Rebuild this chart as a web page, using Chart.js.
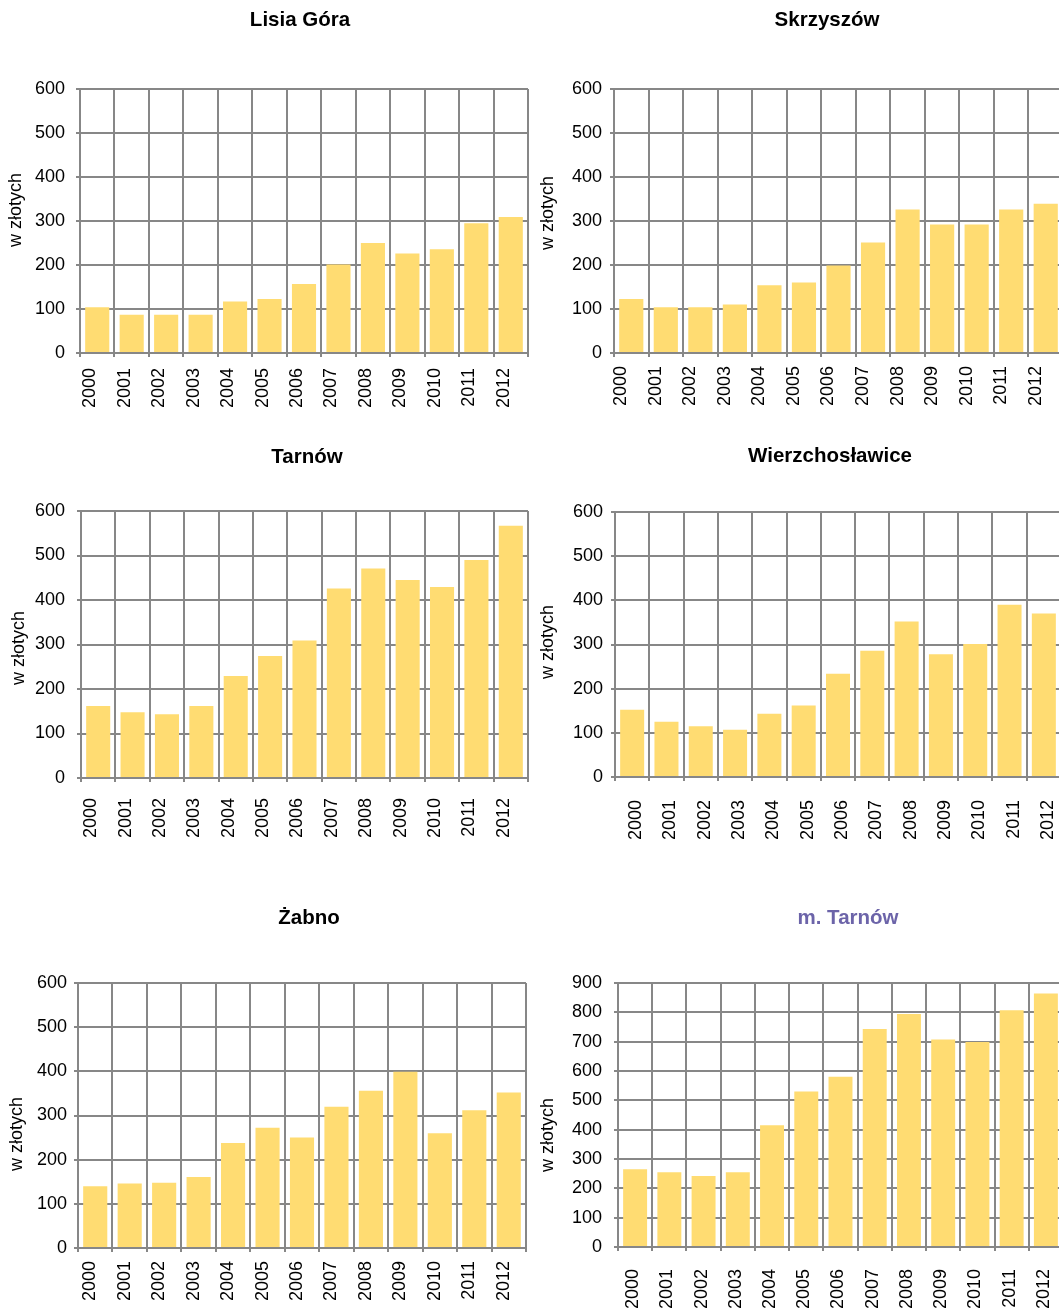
<!DOCTYPE html>
<html>
<head>
<meta charset="utf-8">
<script src="https://cdn.jsdelivr.net/npm/chart.js@4.4.1/dist/chart.umd.min.js"></script>
<style>
  html, body { margin: 0; padding: 0; background: #fff; }
  #page { position: relative; width: 1059px; height: 1309px; overflow: hidden; }
  #page canvas { position: absolute; }
</style>
</head>
<body>
<div id="page"></div>
<script>
// Categories and values (zł)
const years = ["2000", "2001", "2002", "2003", "2004", "2005", "2006", "2007", "2008", "2009", "2010", "2011", "2012"];
const lisiaGora = [104, 87, 87, 87, 117, 123, 157, 201, 250, 226, 236, 295, 309];
const skrzyszow = [123, 104, 104, 110, 154, 160, 199, 251, 326, 292, 292, 326, 339];
const tarnow = [162, 148, 143, 162, 229, 274, 309, 426, 471, 445, 429, 490, 567];
const wierzchoslawice = [152, 125, 115, 107, 143, 162, 234, 286, 352, 278, 301, 390, 370];
const zabno = [140, 146, 148, 161, 238, 272, 250, 320, 356, 399, 260, 312, 352];
const mTarnow = [265, 255, 242, 255, 415, 530, 580, 743, 794, 707, 699, 807, 864];

const titles = ["Lisia Góra", "Skrzyszów", "Tarnów", "Wierzchosławice", "Żabno", "m. Tarnów"];
const yMax = [600, 600, 600, 600, 600, 900];
const yStep = 100;
const unitLabel = "w złotych";

const GRID = "#878787";
const BAR = "#ffdc72";
const FONT = '"Liberation Sans", Arial, sans-serif';

// Page positions of each panel (canvas cell, plot area, texts).
// Cells are wider than the plot so the rotated-label padding never squeezes it.
const panels = [
  { values: lisiaGora, cell: { x: 0, y: 0, w: 570, h: 425 }, plot: { l: 80, t: 89, r: 528, b: 353 },
    titleAt: [300, 20], unitAt: [16, 210], labelOffset: -7, xPad: 11, yPad: 11 },
  { values: skrzyszow, cell: { x: 530, y: 0, w: 590, h: 425 }, plot: { l: 614, t: 89, r: 1063, b: 353 },
    titleAt: [827, 20], unitAt: [548, 213], labelOffset: -10, xPad: 9, yPad: 8 },
  { values: tarnow, cell: { x: 0, y: 430, w: 570, h: 420 }, plot: { l: 81, t: 511, r: 528, b: 778 },
    titleAt: [307, 457], unitAt: [19, 648], labelOffset: -7, xPad: 16, yPad: 12 },
  { values: wierzchoslawice, cell: { x: 530, y: 430, w: 590, h: 420 }, plot: { l: 615, t: 512, r: 1061, b: 777 },
    titleAt: [830, 456], unitAt: [548, 642], labelOffset: 4, xPad: 19, yPad: 8 },
  { values: zabno, cell: { x: 0, y: 860, w: 570, h: 449 }, plot: { l: 78, t: 983, r: 526, b: 1248 },
    titleAt: [309, 918], unitAt: [17, 1134], labelOffset: -5, xPad: 9, yPad: 7 },
  { values: mTarnow, cell: { x: 530, y: 860, w: 590, h: 449 }, plot: { l: 618, t: 983, r: 1063, b: 1247 },
    titleAt: [848, 918], unitAt: [548, 1135], labelOffset: -2, xPad: 18, yPad: 12, titleColor: "#6c64a9" },
];

// Draws the panel title and the rotated unit label at fixed spots
const panelText = {
  id: "panelText",
  afterDraw(chart, args, opts) {
    const ctx = chart.ctx;
    ctx.save();
    ctx.textAlign = "center";
    ctx.textBaseline = "middle";
    ctx.fillStyle = opts.titleColor;
    ctx.font = "bold 20.5px " + FONT;
    ctx.fillText(opts.title, opts.titleX, opts.titleY);
    ctx.fillStyle = "#000";
    ctx.font = "18px " + FONT;
    ctx.translate(opts.unitX, opts.unitY);
    ctx.rotate(-Math.PI / 2);
    ctx.fillText(unitLabel, 0, 0);
    ctx.restore();
  },
};

const page = document.getElementById("page");

panels.forEach((p, i) => {
  const canvas = document.createElement("canvas");
  canvas.width = p.cell.w;
  canvas.height = p.cell.h;
  canvas.style.left = p.cell.x + "px";
  canvas.style.top = p.cell.y + "px";
  page.appendChild(canvas);

  const tickFont = { family: FONT, size: 18 };

  new Chart(canvas, {
    type: "bar",
    data: {
      labels: years,
      datasets: [{ data: p.values, backgroundColor: BAR, barPercentage: 0.7, categoryPercentage: 1 }],
    },
    options: {
      responsive: false,
      animation: false,
      layout: {
        padding: { top: p.plot.t - p.cell.y, right: p.cell.x + p.cell.w - p.plot.r, left: 0, bottom: 0 },
      },
      plugins: {
        legend: { display: false },
        tooltip: { enabled: false },
        panelText: {
          title: titles[i],
          titleColor: p.titleColor || "#000",
          titleX: p.titleAt[0] - p.cell.x,
          titleY: p.titleAt[1] - p.cell.y,
          unitX: p.unitAt[0] - p.cell.x,
          unitY: p.unitAt[1] - p.cell.y,
        },
      },
      scales: {
        x: {
          grid: { color: GRID, lineWidth: 2, tickLength: 4, offset: true },
          border: { color: GRID, width: 2, z: 1 },
          ticks: {
            color: "#000",
            font: tickFont,
            minRotation: 90,
            maxRotation: 90,
            autoSkip: false,
            padding: p.xPad,
            labelOffset: p.labelOffset,
          },
          afterFit: (scale) => {
            scale.height = p.cell.y + p.cell.h - p.plot.b;
          },
        },
        y: {
          min: 0,
          max: yMax[i],
          grid: { color: GRID, lineWidth: 2, tickLength: 4 },
          border: { color: GRID, width: 2 },
          ticks: { stepSize: yStep, color: "#000", font: tickFont, padding: p.yPad, autoSkip: false },
          afterFit: (scale) => {
            scale.width = p.plot.l - p.cell.x;
          },
        },
      },
    },
    plugins: [panelText],
  });
});
</script>
</body>
</html>
